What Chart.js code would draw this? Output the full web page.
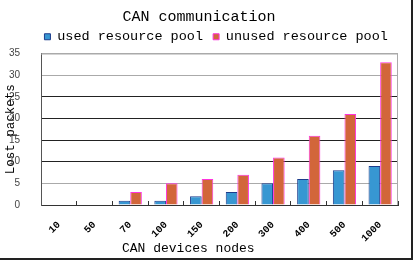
<!DOCTYPE html>
<html>
<head>
<meta charset="utf-8">
<script src="https://cdn.jsdelivr.net/npm/chart.js@4/dist/chart.umd.min.js"></script>
<style>
html,body{margin:0;padding:0;background:#fff;}
#wrap{position:absolute;left:0;top:0;width:411px;height:258px;border-right:2px solid #222;border-bottom:2px solid #222;background:#fff;}
canvas{display:block;}
</style>
</head>
<body>
<div id="wrap"><canvas id="c" width="411" height="258"></canvas></div>
<script>
const categories = ["10","50","70","100","150","200","300","400","500","1000"];
const usedPool = [0,0,1,1,2,3,5,6,8,9];
const unusedPool = [0,0,3,5,6,7,11,16,21,33];
const yTicks = [0,5,10,15,20,25,30,35];
const darkGridValues = [10,15,20,25];

const MONO = "'Liberation Mono', 'DejaVu Sans Mono', monospace";

const frame = {
  id: 'frame',
  beforeDatasetsDraw(chart) {
    const a = chart.chartArea, ctx = chart.ctx;
    ctx.save();
    ctx.strokeStyle = '#aaa';
    ctx.lineWidth = 1;
    ctx.beginPath();
    ctx.moveTo(a.left, a.top + 0.5);
    ctx.lineTo(a.right - 0.5, a.top + 0.5);
    ctx.lineTo(a.right - 0.5, a.bottom);
    ctx.stroke();
    ctx.restore();
  }
};

new Chart(document.getElementById('c'), {
  type: 'bar',
  data: {
    labels: categories,
    datasets: [
      {label: 'used resource pool ', data: usedPool, backgroundColor: '#3797d2', borderColor: '#1c3c8c', borderWidth: 1, borderSkipped: 'bottom'},
      {label: 'unused resource pool ', data: unusedPool, backgroundColor: '#d2663a', borderColor: '#ff33dd', borderWidth: 1, borderSkipped: 'bottom'}
    ]
  },
  plugins: [frame],
  options: {
    responsive: false,
    animation: false,
    devicePixelRatio: 1,
    layout: {padding: {left: 0, right: 13, top: 0, bottom: 0}},
    datasets: {bar: {categoryPercentage: 0.65, barPercentage: 1.0}},
    plugins: {
      title: {display: true, text: 'CAN communication', color: '#000', font: {family: MONO, size: 15, weight: 'normal'}, padding: {top: 8, bottom: 2}},
      legend: {display: true, position: 'top', align: 'end', labels: {color: '#000', boxWidth: 6, boxHeight: 6, padding: 2, font: {family: MONO, size: 13.5}}},
      tooltip: {enabled: false}
    },
    scales: {
      x: {
        grid: {display: true, offset: true, drawOnChartArea: false, drawTicks: true, tickLength: -4, color: '#333'},
        border: {display: true, color: '#333', width: 1},
        ticks: {color: '#000', minRotation: 45, maxRotation: 45, padding: 18, autoSkip: false, font: {family: MONO, size: 10, weight: 'bold'}},
        title: {display: true, text: 'CAN devices nodes        ', color: '#000', font: {family: MONO, size: 13}, padding: {top: 0, bottom: 2}},
        afterFit(scale) { scale.height = 53; }
      },
      y: {
        min: 0, max: 35,
        afterBuildTicks(scale) { scale.ticks = yTicks.map(v => ({value: v})); },
        grid: {drawTicks: false, color: (ctx) => darkGridValues.includes(ctx.tick && ctx.tick.value) ? '#222' : '#aaa', lineWidth: 1},
        border: {display: true, color: '#555', width: 1},
        ticks: {color: '#444', padding: 21, font: {family: "'Liberation Sans', Arial, sans-serif", size: 10}},
        title: {display: true, text: 'Lost packets', color: '#000', font: {family: MONO, size: 12.5}, padding: {top: 3, bottom: 0}},
        afterFit(scale) { scale.width = 41; scale.paddingTop = 6; }
      }
    }
  }
});
</script>
</body>
</html>
